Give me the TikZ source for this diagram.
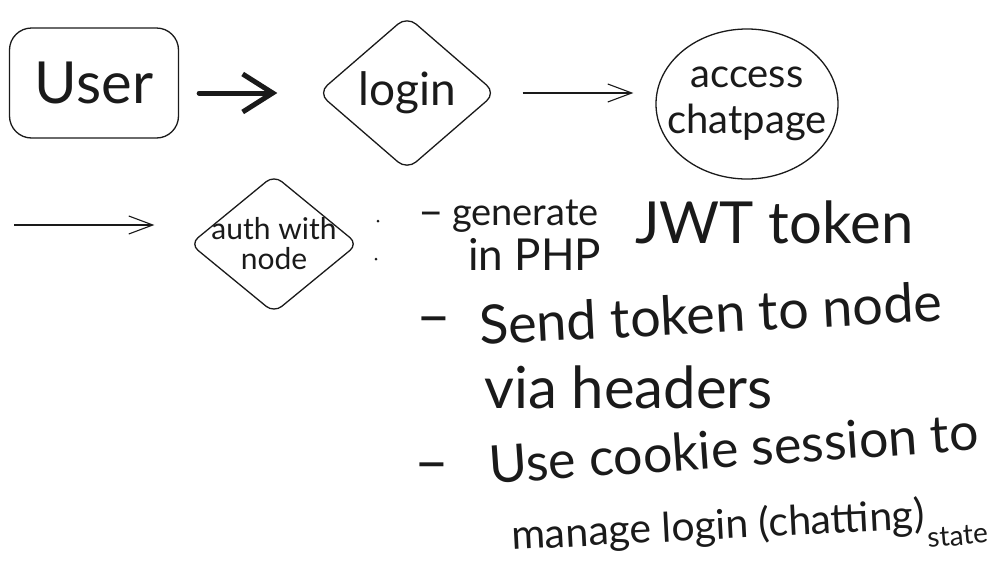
\documentclass[tikz,border=0pt]{standalone}
\usepackage{fontspec}
\setmainfont{Lato}
\usetikzlibrary{shapes.geometric,arrows.meta}
\definecolor{ink}{HTML}{1A1A1A}

\begin{document}
\begin{tikzpicture}[x=1pt,y=-1pt,
  outline/.style={draw=ink,line width=1.3pt,text=ink},
  thinarrow/.style={draw=ink,line width=1.1pt,-{Straight Barb[length=24pt,width=18pt]}},
  note/.style={text=ink,inner sep=0pt,anchor=base west}]

\useasboundingbox (0,0) rectangle (1002,568);

\node[outline,rounded corners=22pt,minimum width=169pt,minimum height=110pt,font=\fontsize{58}{60}\selectfont] (user) at (94,83) {User};
\node[outline,diamond,rounded corners=12pt,minimum width=178pt,minimum height=154pt,inner sep=0pt,font=\fontsize{46}{50}\selectfont] (login) at (407,93) {login};
\node[outline,ellipse,minimum width=182pt,minimum height=150pt,inner sep=-22pt,align=center,font=\fontsize{40}{46}\selectfont] (chat) at (747,104) {access\\chatpage};
\node[outline,diamond,rounded corners=10pt,minimum width=168pt,minimum height=138pt,inner sep=-10pt,align=center,font=\fontsize{30}{30}\selectfont] (auth) at (274,244) {auth with\\node};

\draw[ink,line width=5pt,line cap=round,-{Straight Barb[length=30pt,width=38pt]},shorten <=20pt,shorten >=40pt] (user.east |- login) -- (login.west);
\draw[thinarrow,shorten <=26pt,shorten >=22pt] (login.east) -- (login.east -| chat.west);

\coordinate (authin) at (14,225);
\draw[thinarrow,shorten >=35pt] (authin) -- (authin -| auth.west);

\fill[ink] (378,221) circle (1.5pt);
\fill[ink] (376,259) circle (1.5pt);

\node[note,font=\fontsize{44}{44}\selectfont] (dashA) at (418,226) {–};
\node[note,font=\fontsize{38}{38}\selectfont] (gen) at (452,225) {generate};
\node[note,font=\fontsize{44}{44}\selectfont] (php) at (468,270) {in PHP};
\node[note,font=\fontsize{58}{58}\selectfont] (jwt) at (635,243) {JWT token};

\node[note,font=\fontsize{60}{60}\selectfont] (dashB) at (416,336) {–};
\node[note,font=\fontsize{54}{54}\selectfont,rotate=3] (send) at (480,345) {Send token to node};
\node[note,font=\fontsize{58}{58}\selectfont] (via) at (484,408) {via headers};

\node[note,font=\fontsize{60}{60}\selectfont] (dashC) at (414,482) {–};
\node[note,font=\fontsize{52}{52}\selectfont,rotate=4] (cookie) at (490,484) {Use cookie session to};
\node[note,font=\fontsize{41}{41}\selectfont,rotate=3] (manage) at (512,550) {manage login (chatting)};
\node[note,font=\fontsize{28}{28}\selectfont,rotate=5] (state) at (928,548) {state};

\end{tikzpicture}
\end{document}
